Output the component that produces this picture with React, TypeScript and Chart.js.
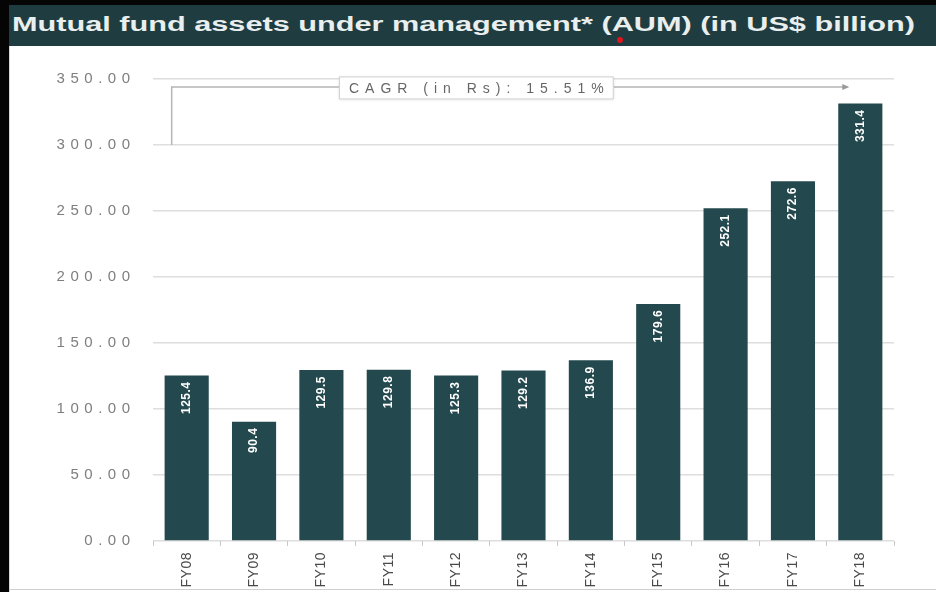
import React, { useEffect, useRef } from "react";
import { Chart, registerables } from "chart.js";

Chart.register(...registerables);

const TITLE = "Mutual fund assets under management* (AUM) (in US$ billion)";
const categories = ["FY08", "FY09", "FY10", "FY11", "FY12", "FY13", "FY14", "FY15", "FY16", "FY17", "FY18"];
const aumValues = [125.4, 90.4, 129.5, 129.8, 125.3, 129.2, 136.9, 179.6, 252.1, 272.6, 331.4];
const yMin = 0;
const yMax = 350;
const yStep = 50;
const cagrLabel = "CAGR (in Rs): 15.51%";
const cagrTop = 344;
const cagrBottom = 300;

const BAR = "#23484d";
const FONT = "'Liberation Sans', Arial, sans-serif";

const spacingPlugin = {
  id: "spacing",
  beforeDraw(chart: any) {
    chart.ctx.letterSpacing = "5.5px";
  },
  afterDatasetsDraw(chart: any) {
    const ctx = chart.ctx;
    const meta = chart.getDatasetMeta(0);
    ctx.save();
    ctx.letterSpacing = "0.5px";
    ctx.fillStyle = "#ffffff";
    ctx.font = `bold 12px ${FONT}`;
    ctx.textAlign = "right";
    ctx.textBaseline = "middle";
    meta.data.forEach((bar: any, i: number) => {
      ctx.save();
      ctx.translate(bar.x, bar.y + 6);
      ctx.rotate(-Math.PI / 2);
      ctx.fillText(aumValues[i].toFixed(1), 0, 0);
      ctx.restore();
    });
    ctx.restore();
    ctx.letterSpacing = "0.5px";
  },
  afterDraw(chart: any) {
    const ctx = chart.ctx;
    const xs = chart.scales.x;
    const ys = chart.scales.y;
    const x0 = xs.getPixelForValue(0) - 15;
    const x1 = xs.getPixelForValue(categories.length - 1) - 15;
    const yT = ys.getPixelForValue(cagrTop);
    const yB = ys.getPixelForValue(cagrBottom);
    ctx.save();
    ctx.strokeStyle = "#b5b5b5";
    ctx.lineWidth = 1.5;
    ctx.beginPath();
    ctx.moveTo(x0, yB);
    ctx.lineTo(x0, yT);
    ctx.lineTo(x1, yT);
    ctx.stroke();
    ctx.fillStyle = "#9a9a9a";
    ctx.beginPath();
    ctx.moveTo(x1 + 4, yT);
    ctx.lineTo(x1 - 3, yT - 3);
    ctx.lineTo(x1 - 3, yT + 3);
    ctx.closePath();
    ctx.fill();

    ctx.letterSpacing = "6px";
    ctx.font = `14px ${FONT}`;
    const tw = ctx.measureText(cagrLabel).width;
    const cx = xs.getPixelForValue(4.3);
    const bw = tw + 14;
    const bh = 23;
    const bx = cx - bw / 2;
    const by = yT - bh / 2 + 1;
    ctx.shadowColor = "rgba(0,0,0,0.15)";
    ctx.shadowBlur = 3;
    ctx.shadowOffsetY = 1;
    ctx.fillStyle = "#ffffff";
    ctx.fillRect(bx, by, bw, bh);
    ctx.shadowColor = "transparent";
    ctx.strokeStyle = "#cfcfcf";
    ctx.lineWidth = 1;
    ctx.strokeRect(bx + 0.5, by + 0.5, bw - 1, bh - 1);
    ctx.fillStyle = "#666666";
    ctx.textAlign = "left";
    ctx.textBaseline = "middle";
    ctx.fillText(cagrLabel, bx + 10, by + bh / 2 + 1);
    ctx.restore();
    ctx.letterSpacing = "0px";
  },
};

function TitleBar() {
  const ref = useRef<HTMLSpanElement | null>(null);
  useEffect(() => {
    const el = ref.current;
    if (!el) return;
    el.style.transform = "none";
    const w = el.offsetWidth;
    if (w > 0) el.style.transform = `scaleX(${903 / w})`;
  }, []);
  return (
    <div
      style={{
        position: "absolute",
        left: 9,
        top: 5,
        width: 927,
        height: 41,
        background: "#1f3d41",
        overflow: "hidden",
      }}
    >
      <span
        ref={ref}
        style={{
          position: "absolute",
          left: 3,
          top: 8,
          display: "inline-block",
          whiteSpace: "nowrap",
          color: "#e9eeee",
          font: `bold 20px ${FONT}`,
          transformOrigin: "left center",
        }}
      >
        {TITLE}
      </span>
    </div>
  );
}

export default function App() {
  const canvasRef = useRef<HTMLCanvasElement | null>(null);

  useEffect(() => {
    const canvas = canvasRef.current;
    if (!canvas) return;
    const chart = new Chart(canvas, {
      type: "bar",
      data: {
        labels: categories,
        datasets: [
          {
            data: aumValues,
            backgroundColor: BAR,
            borderWidth: 0,
            categoryPercentage: 1,
            barPercentage: 0.655,
          },
        ],
      },
      options: {
        responsive: false,
        animation: false,
        devicePixelRatio: 1,
        layout: { padding: { left: 0, right: 42, top: 33, bottom: 0 } },
        plugins: {
          legend: { display: false },
          title: { display: false },
          tooltip: { enabled: false },
        },
        scales: {
          x: {
            border: { display: false, z: 1 },
            grid: {
              display: true,
              offset: true,
              drawOnChartArea: false,
              drawTicks: true,
              tickLength: 5,
              color: "#c8c8c8",
              z: 1,
            },
            ticks: {
              z: 1,
              minRotation: 90,
              maxRotation: 90,
              autoSkip: false,
              padding: 6,
              color: "#4a4a4a",
              font: { family: FONT, size: 14 },
            },
            afterFit: (scale: any) => {
              scale.height = 51;
            },
          },
          y: {
            min: yMin,
            max: yMax,
            border: { display: false },
            grid: {
              color: "#dedede",
              lineWidth: 1.5,
              drawTicks: false,
            },
            ticks: {
              stepSize: yStep,
              padding: 17.5,
              color: "#7e7e7e",
              font: { family: FONT, size: 15 },
              callback: (v: any) => Number(v).toFixed(2),
            },
            afterFit: (scale: any) => {
              scale.width = 153;
            },
          },
        },
      },
      plugins: [spacingPlugin],
    });
    return () => chart.destroy();
  }, []);

  return (
    <div
      style={{
        position: "absolute",
        left: 0,
        top: 0,
        width: 936,
        height: 592,
        background: "#ffffff",
        overflow: "hidden",
      }}
    >
      <div style={{ position: "absolute", left: 0, top: 0, width: 936, height: 5, background: "#050505" }} />
      <div style={{ position: "absolute", left: 0, top: 0, width: 9, height: 592, background: "#050505" }} />
      <div style={{ position: "absolute", left: 9, top: 46, width: 1, height: 546, background: "#d8d8d8" }} />
      <TitleBar />
      <div
        style={{
          position: "absolute",
          left: 9,
          top: 589,
          width: 927,
          height: 1,
          background: "#cfcfcf",
        }}
      />
      <div
        style={{
          position: "absolute",
          left: 617,
          top: 37,
          width: 6,
          height: 6,
          borderRadius: 3,
          background: "#e0141e",
        }}
      />
      <canvas
        ref={canvasRef}
        width={936}
        height={546}
        style={{ position: "absolute", left: 0, top: 46, width: 936, height: 546 }}
      />
    </div>
  );
}
